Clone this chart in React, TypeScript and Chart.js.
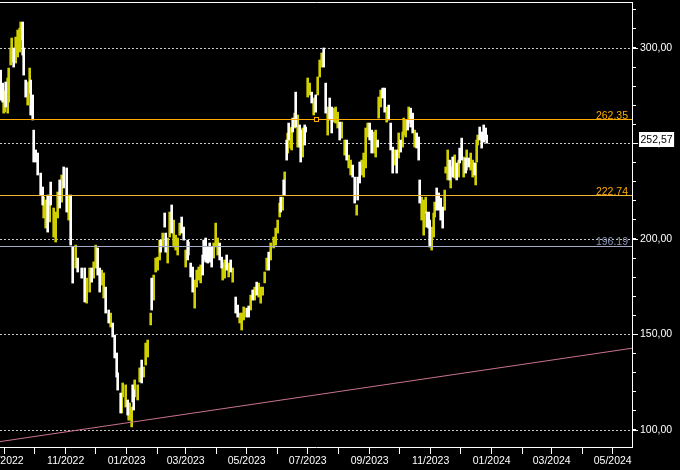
import React, { useEffect, useRef } from 'react';
import { Chart, registerables } from 'chart.js';

Chart.register(...registerables);

// axis ranges (days since 2023-01-01, price)
const X_MIN = -126.7;
const X_MAX = 505.3;
const Y_MIN = 91.08;
const Y_MAX = 324.08;

const monthTicks = ['09/2022','10/2022','11/2022','12/2022','01/2023','02/2023','03/2023','04/2023','05/2023','06/2023','07/2023','08/2023','09/2023','10/2023','11/2023','12/2023','01/2024','02/2024','03/2024','04/2024','05/2024'];
const priceLabels = [100, 150, 200, 250, 300];

// [day, low, high]
const whiteBars: [number, number, number][] = [
  [-126,272.7,288.4],[-124,271.7,281.6],[-121,269.1,282.2],[-113,290.0,300.0],[-104,296.3,313.6],[-103,285.8,300.0],
  [-101,274.3,283.2],[-96,264.9,283.2],[-94,262.3,275.4],[-93,240.3,257.0],[-91,240.3,246.6],[-89,233.5,245.0],
  [-86,223.0,234.5],[-84,217.8,227.2],[-79,203.6,223.0],[-76,217.8,229.8],[-67,216.2,230.9],[-63,226.7,237.7],
  [-60,214.1,237.2],[-56,196.8,223.0],[-54,176.9,195.8],[-49,182.7,190.0],[-45,179.5,184.8],[-42,167.0,184.8],
  [-35,177.4,184.8],[-29,181.1,195.3],[-27,172.2,184.8],[-21,161.2,174.8],[-18,156.0,162.8],[-14,148.7,156.0],
  [-12,137.7,149.7],[-10,127.7,140.3],[-9,120.9,129.9],[-6,108.9,119.3],[1,107.8,115.7],[6,114.7,123.6],
  [7,110.4,120.9],[15,124.6,136.6],[25,162.8,179.5],[34,193.1,199.4],[38,206.2,213.6],[39,193.1,203.1],
  [45,203.1,217.8],[55,203.1,211.5],[57,199.4,206.2],[61,189.0,199.4],[64,180.1,187.4],[66,172.2,185.3],
  [76,181.1,191.6],[77,189.0,199.4],[79,187.9,200.5],[81,187.4,195.8],[83,187.9,197.9],[85,185.3,195.8],
  [93,189.0,197.9],[95,184.8,190.5],[100,183.7,191.6],[104,182.7,189.0],[109,161.2,169.6],[111,159.1,165.4],
  [120,159.1,163.8],[122,159.1,164.9],[126,168.0,173.3],[130,170.6,177.4],[142,183.7,193.1],[154,214.1,221.9],
  [157,223.0,230.9],[160,241.3,251.8],[162,251.8,260.7],[166,256.0,263.3],[169,258.6,276.9],[173,248.1,259.7],
  [174,240.3,257.0],[178,249.2,259.7],[179,256.0,258.6],[185,271.2,276.9],[189,266.4,275.4],[197,290.0,300.0],
  [199,265.9,281.6],[203,262.3,273.8],[205,255.5,269.1],[213,251.8,261.2],[220,241.3,251.8],[226,232.4,238.7],
  [228,218.8,232.4],[231,220.4,232.4],[233,229.3,240.3],[243,251.8,260.7],[245,245.0,257.0],[251,248.1,251.8],
  [256,273.8,279.0],[258,266.4,279.0],[262,262.3,270.1],[264,246.6,260.7],[266,234.5,248.1],[270,234.5,246.6],
  [274,245.5,251.8],[281,257.0,262.3],[284,258.6,268.5],[286,255.5,265.9],[290,247.6,255.5],[292,241.3,253.4],
  [293,218.8,230.9],[300,206.2,214.1],[302,205.7,214.1],[303,195.8,209.9],[310,215.1,226.7],[312,215.1,224.1],
  [314,209.9,221.4],[316,205.7,216.7],[323,230.9,241.3],[326,232.4,242.9],[330,230.9,239.8],[333,239.8,247.6],
  [335,241.3,252.8],[339,234.5,242.4],[342,237.7,242.4],[348,233.5,239.8],[353,251.8,258.6],[355,247.6,256.0],
  [357,250.7,259.7],[359,251.8,258.1],[360,250.2,254.4]
];

const yellowBars: [number, number, number][] = [
  [-123,265.9,277.5],[-122,266.5,277.0],[-119,265.9,284.3],[-118,271.7,289.5],[-116,291.1,300.0],[-115,292.6,305.2],
  [-111,292.1,305.7],[-109,295.3,309.4],[-107,297.9,310.4],[-106,304.2,313.6],[-99,270.1,282.2],[-97,276.4,289.5],
  [-83,211.0,222.0],[-81,205.7,220.4],[-77,208.9,223.0],[-73,201.0,216.2],[-71,198.4,214.1],[-69,211.0,224.6],
  [-65,219.3,233.5],[-58,209.9,223.0],[-51,184.8,196.8],[-40,166.4,179.5],[-37,172.2,184.8],[-33,179.5,188.0],
  [-31,184.8,196.8],[-25,175.9,183.7],[-23,169.1,182.2],[-16,153.9,161.2],[-5,108.9,119.3],[-4,117.3,124.6],
  [-1,112.0,123.6],[2,105.2,114.1],[3,105.2,114.1],[5,101.6,112.0],[8,117.3,126.2],[11,115.7,123.6],
  [13,125.1,132.5],[17,127.7,133.0],[19,134.0,145.5],[21,138.2,147.1],[24,155.0,161.2],[27,168.0,181.1],
  [29,182.7,190.0],[31,183.7,190.5],[33,189.0,199.4],[36,195.8,203.1],[41,187.4,200.5],[43,201.0,214.1],
  [47,195.8,209.9],[49,194.2,202.0],[51,191.6,200.5],[53,202.0,208.3],[59,185.3,194.2],[62,191.6,198.4],
  [68,163.8,178.5],[70,174.8,183.7],[72,178.5,185.3],[74,177.0,186.4],[87,190.0,197.9],[89,195.8,208.3],
  [91,191.6,200.5],[96,178.5,187.4],[98,179.5,189.0],[102,180.1,187.4],[106,177.4,184.8],[113,156.0,161.2],
  [115,152.3,161.2],[117,157.6,164.4],[124,162.8,170.6],[128,168.0,174.8],[132,169.6,176.9],[134,166.4,174.8],
  [136,170.6,174.8],[138,177.0,182.7],[140,183.7,190.0],[144,189.0,197.9],[147,195.3,201.0],[149,196.8,205.7],
  [151,203.1,209.9],[153,211.5,218.8],[156,215.1,221.9],[158,223.0,235.1],[161,245.0,255.4],[164,247.6,258.1],
  [165,246.6,258.6],[168,258.1,265.9],[171,248.1,264.9],[176,242.9,258.1],[181,274.3,284.3],[183,275.4,281.6],
  [187,264.9,273.8],[191,275.4,284.8],[193,284.8,293.7],[195,290.0,297.4],[201,254.4,269.1],[207,261.2,268.5],
  [209,260.7,269.1],[211,258.1,266.4],[215,252.8,261.2],[218,243.9,251.8],[222,237.2,243.9],[224,233.5,241.3],
  [230,212.5,217.8],[235,233.5,241.3],[237,232.4,245.0],[239,237.2,258.1],[241,253.4,260.7],[247,245.0,256.0],
  [249,242.9,257.0],[252,263.3,274.3],[254,269.1,278.0],[260,261.2,269.1],[268,238.7,246.6],[272,242.4,255.5],
  [276,248.1,256.0],[277,254.4,263.3],[279,253.4,262.3],[282,260.7,269.1],[288,248.1,257.0],[295,209.9,221.9],
  [297,202.0,220.4],[299,213.6,221.9],[305,194.2,206.2],[307,201.0,213.6],[308,211.5,219.3],[318,215.1,225.6],
  [319,234.5,237.7],[321,230.9,246.6],[324,226.7,237.7],[328,231.9,244.0],[332,232.4,241.3],[337,232.4,242.9],
  [340,236.1,246.6],[344,236.1,245.0],[346,232.4,241.3],[349,228.3,239.8],[350,240.3,251.8],[351,249.2,254.4]
];

const levelValues = [262.35, 222.74, 196.19];
const levelLabels = ['262.35', '222.74', '196.19'];
const levelColors = ['#ffaa00', '#f5b833', '#a4acc8'];
const levelTextColors = ['#ffaa00', '#ffaa00', '#8a92b2'];

const trendValues = [93.9, 142.8];
const markerDay = 189;
const markerValue = 262.35;
const lastPrice = 252.57;
const lastPriceLabel = '252,57';

const FONT = '"Liberation Sans", Arial, sans-serif';
const FS = 10.5;

function dayOf(label: string): number {
  const [m, y] = label.split('/').map(Number);
  return (Date.UTC(y, m - 1, 1) - Date.UTC(2023, 0, 1)) / 86400000;
}

const decor = {
  id: 'decor',
  beforeDatasetsDraw(chart: any) {
    const { ctx, chartArea, scales } = chart;
    const ys = scales.y;
    ctx.save();
    ctx.strokeStyle = '#c8c8c8';
    ctx.lineWidth = 1;
    ctx.setLineDash([2, 2]);
    priceLabels.forEach((v) => {
      const py = Math.round(ys.getPixelForValue(v)) + 0.5;
      ctx.beginPath();
      ctx.moveTo(chartArea.left, py);
      ctx.lineTo(chartArea.right, py);
      ctx.stroke();
    });
    ctx.restore();
  },
  afterDatasetsDraw(chart: any) {
    const { ctx, chartArea, scales } = chart;
    const ys = scales.y;
    ctx.save();
    ctx.lineWidth = 1;
    ctx.setLineDash([]);
    levelValues.forEach((v, i) => {
      const py = Math.floor(ys.getPixelForValue(v)) + 0.5;
      ctx.strokeStyle = levelColors[i];
      ctx.beginPath();
      ctx.moveTo(chartArea.left, py);
      ctx.lineTo(chartArea.right, py);
      ctx.stroke();
    });
    const mx = Math.round(scales.x.getPixelForValue(markerDay)) + 0.5;
    const my = Math.floor(ys.getPixelForValue(markerValue)) + 0.5;
    ctx.fillStyle = '#000000';
    ctx.fillRect(mx - 2, my - 2, 4, 4);
    ctx.strokeStyle = levelColors[0];
    ctx.strokeRect(mx - 2, my - 2, 4, 4);
    ctx.restore();
  },
  afterDraw(chart: any) {
    const { ctx, chartArea, scales } = chart;
    const ys = scales.y;
    ctx.save();
    ctx.strokeStyle = '#ffffff';
    ctx.lineWidth = 1;
    ctx.beginPath();
    ctx.moveTo(0, chartArea.top + 0.5);
    ctx.lineTo(chartArea.right + 0.5, chartArea.top + 0.5);
    ctx.stroke();
    priceLabels.forEach((v) => {
      const py = Math.round(ys.getPixelForValue(v)) + 0.5;
      ctx.beginPath();
      ctx.moveTo(chartArea.right, py);
      ctx.lineTo(chartArea.right + 6, py);
      ctx.stroke();
    });
    ctx.font = `${FS}px ${FONT}`;
    ctx.textAlign = 'right';
    ctx.textBaseline = 'alphabetic';
    levelValues.forEach((v, i) => {
      const py = ys.getPixelForValue(v);
      ctx.fillStyle = levelTextColors[i];
      ctx.fillText(levelLabels[i], chartArea.right - 4, py - 1);
    });
    const py = ys.getPixelForValue(lastPrice);
    const tw = ctx.measureText(lastPriceLabel).width;
    ctx.fillStyle = '#ffffff';
    ctx.fillRect(chartArea.right + 7, Math.round(py) - 7, tw + 3, 15);
    ctx.fillStyle = '#000000';
    ctx.textAlign = 'left';
    ctx.textBaseline = 'middle';
    ctx.fillText(lastPriceLabel, chartArea.right + 8.5, Math.round(py) + 1);
    ctx.restore();
  },
};

export default function App() {
  const ref = useRef<HTMLCanvasElement>(null);
  useEffect(() => {
    if (!ref.current) return;
    const chart = new Chart(ref.current, {
      type: 'bar',
      data: {
        datasets: [
          {
            type: 'bar',
            data: whiteBars.map(([d, lo, hi]) => ({ x: d, y: [lo, hi] })) as any,
            backgroundColor: '#ffffff',
            barThickness: 2,
            grouped: false,
            borderWidth: 0,
            order: 2,
          },
          {
            type: 'bar',
            data: yellowBars.map(([d, lo, hi]) => ({ x: d, y: [lo, hi] })) as any,
            backgroundColor: '#d0d000',
            barThickness: 2,
            grouped: false,
            borderWidth: 0,
            order: 2,
          },
          {
            type: 'line',
            data: [{ x: X_MIN, y: trendValues[0] }, { x: X_MAX, y: trendValues[1] }],
            borderColor: '#c8748a',
            borderWidth: 1,
            pointRadius: 0,
            order: 1,
          } as any,
        ],
      },
      options: {
        animation: false,
        responsive: false,
        devicePixelRatio: 1,
        layout: { padding: { top: 2, left: 0, right: 0, bottom: 0 }, autoPadding: false } as any,
        plugins: { legend: { display: false }, tooltip: { enabled: false } },
        scales: {
          x: {
            type: 'linear',
            offset: false,
            min: X_MIN,
            max: X_MAX,
            afterBuildTicks: (scale: any) => {
              scale.ticks = monthTicks.map((l) => ({ value: dayOf(l) }));
            },
            afterFit: (scale: any) => {
              scale.height = 23;
              scale.paddingLeft = 0;
              scale.paddingRight = 0;
            },
            ticks: {
              autoSkip: false,
              maxRotation: 0,
              minRotation: 0,
              padding: 1,
              color: '#ffffff',
              font: { family: FONT, size: FS },
              callback: (_v: any, i: number) => {
                const l = monthTicks[i];
                return Number(l.split('/')[0]) % 2 === 1 ? l : '';
              },
            },
            grid: { offset: false, drawOnChartArea: false, drawTicks: true, tickLength: 7, color: '#ffffff' },
            border: { display: true, color: '#ffffff', width: 1 },
          },
          y: {
            type: 'linear',
            position: 'right',
            min: Y_MIN,
            max: Y_MAX,
            afterFit: (scale: any) => {
              scale.width = 48;
              scale.paddingTop = 0;
              scale.paddingBottom = 0;
            },
            ticks: {
              stepSize: 10,
              includeBounds: false,
              autoSkip: false,
              padding: 4,
              color: '#ffffff',
              font: { family: FONT, size: FS },
              callback: (v: any) => (Number(v) % 50 === 0 ? Number(v).toFixed(2).replace('.', ',') : ''),
            },
            grid: { drawOnChartArea: false, drawTicks: true, tickLength: 4, color: '#ffffff' },
            border: { display: true, color: '#ffffff', width: 1 },
          },
        },
      },
      plugins: [decor],
    });
    return () => chart.destroy();
  }, []);
  return (
    <div style={{ position: 'fixed', left: 0, top: 0, width: 680, height: 470, background: '#000' }}>
      <canvas ref={ref} width={680} height={470} style={{ display: 'block' }} />
    </div>
  );
}
